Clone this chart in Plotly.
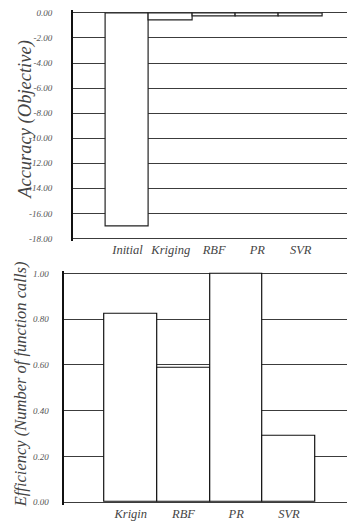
import plotly.graph_objects as go

# ---- data ----
acc_categories = ["Initial", "Kriging", "RBF", "PR", "SVR"]
acc_values = [-17.05, -0.58, -0.25, -0.25, -0.25]
acc_ticks = [0, -2, -4, -6, -8, -10, -12, -14, -16, -18]

eff_categories = ["Krigin", "RBF", "PR", "SVR"]
eff_values = [0.825, 0.587, 1.00, 0.29]
eff_ticks = [0.0, 0.2, 0.4, 0.6, 0.8, 1.0]

W, H = 347, 522
SERIF = "Liberation Serif"
GRID = "#3c3c3c"

fig = go.Figure()
fig.add_trace(go.Bar(x=acc_categories, y=acc_values, xaxis="x", yaxis="y",
                     marker=dict(color="white", line=dict(color="#222", width=1.2)),
                     hoverinfo="x+y", showlegend=False))
fig.add_trace(go.Bar(x=eff_categories, y=eff_values, xaxis="x2", yaxis="y2",
                     marker=dict(color="white", line=dict(color="#111", width=1.2)),
                     hoverinfo="x+y", showlegend=False))

def px_x(p):
    return p / W

def px_y(p):
    return 1 - p / H

tickfont_y = dict(family=SERIF, size=9, color="#555", style="italic")
tickfont_x = dict(family=SERIF, size=12.5, color="#444", style="italic")

# top plot: 0 at 11px, -18 at 238.7px
pu_top = (238.7 - 11) / 18
pad_t = 0.2
top_y0 = 11 - pad_t * pu_top
top_y1 = 238.7 + pad_t * pu_top

# bottom plot: 1 at 274, 0 at 505
pu_bot = (505 - 274) / 1.0
pad_b = 0.011
bot_y0 = 274 - pad_b * pu_bot
bot_y1 = 505 + pad_b * pu_bot

fig.update_layout(
    width=W, height=H,
    margin=dict(l=0, r=0, t=0, b=0),
    paper_bgcolor="white", plot_bgcolor="white",
    bargap=0,
    xaxis=dict(domain=[px_x(72.7), 1], anchor="y", type="category",
               range=[-1.266, 5.07], showgrid=False, showline=False,
               ticks="", tickfont=tickfont_x, zeroline=False),
    yaxis=dict(domain=[px_y(top_y1), px_y(top_y0)], anchor="x",
               range=[-18 - pad_t, 0 + pad_t], tickvals=acc_ticks,
               ticktext=[f"{v:.2f}" for v in acc_ticks],
               showgrid=True, gridcolor=GRID, gridwidth=1.2,
               zeroline=False, showline=True, linecolor="#111", linewidth=1.5,
               ticks="", ticklabelstandoff=17, tickfont=tickfont_y),
    xaxis2=dict(domain=[px_x(64.3), 1], anchor="y2", type="category",
                range=[-1.26, 4.10], showgrid=False, showline=False,
                ticks="", tickfont=tickfont_x, zeroline=False),
    yaxis2=dict(domain=[px_y(bot_y1), px_y(bot_y0)], anchor="x2",
                range=[0 - pad_b, 1 + pad_b], tickvals=eff_ticks,
                ticktext=[f"{v:.2f}" for v in eff_ticks],
                showgrid=True, gridcolor=GRID, gridwidth=1.2,
                zeroline=False, showline=True, linecolor="#111", linewidth=1.5,
                ticks="", ticklabelstandoff=12, tickfont=tickfont_y),
    annotations=[
        dict(text="Accuracy (Objective)", x=px_x(26), y=px_y(119),
             xref="paper", yref="paper", showarrow=False, textangle=-90,
             xanchor="center", yanchor="middle",
             font=dict(family=SERIF, size=18.5, color="#444", style="italic")),
        dict(text="Efficiency (Number of function calls)", x=px_x(20), y=px_y(386),
             xref="paper", yref="paper", showarrow=False, textangle=-90,
             xanchor="center", yanchor="middle",
             font=dict(family=SERIF, size=16.5, color="#444", style="italic")),
    ],
)

fig.write_html(
    "out.html",
    config={"displayModeBar": False},
    post_script="document.body.style.margin='0';document.body.style.overflow='hidden';",
)
